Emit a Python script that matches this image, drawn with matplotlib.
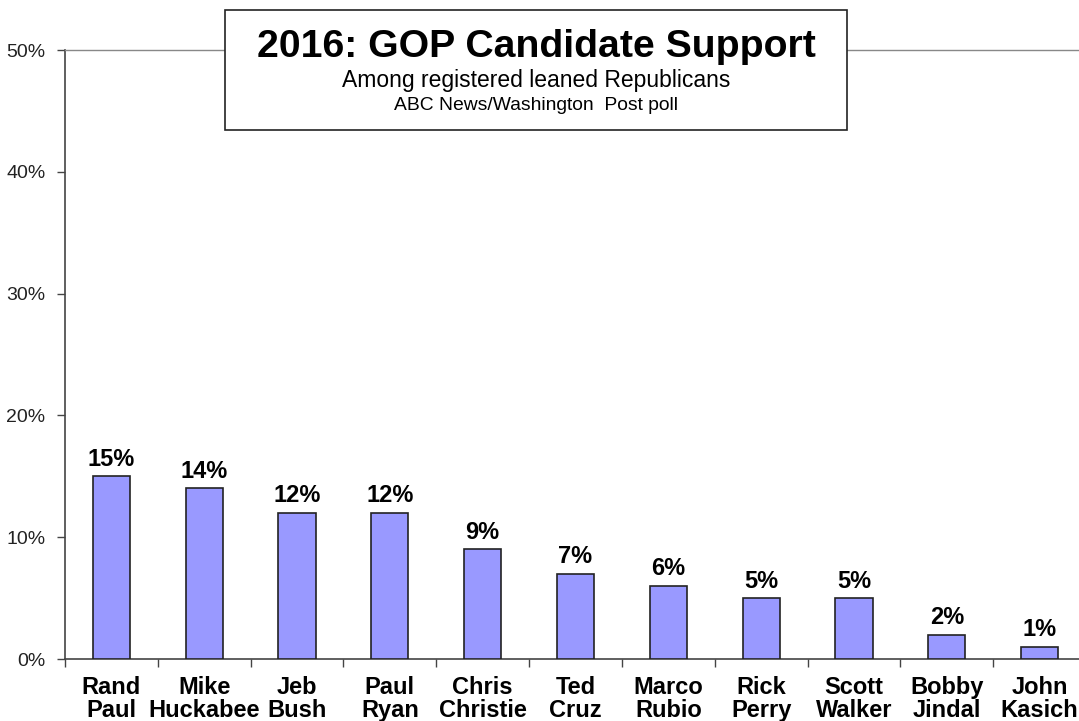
import matplotlib.pyplot as plt
from matplotlib.patches import Rectangle
from matplotlib.ticker import FuncFormatter

plt.rcParams['font.family'] = ['Liberation Sans', 'DejaVu Sans']

# dati del sondaggio
candidati = ['Rand\nPaul', 'Mike\nHuckabee', 'Jeb\nBush', 'Paul\nRyan', 'Chris\nChristie',
             'Ted\nCruz', 'Marco\nRubio', 'Rick\nPerry', 'Scott\nWalker', 'Bobby\nJindal',
             'John\nKasich']
supporto = [15, 14, 12, 12, 9, 7, 6, 5, 5, 2, 1]
yticks = [0, 10, 20, 30, 40, 50]

W, H = 1079, 721
fig = plt.figure(figsize=(W / 100, H / 100), dpi=100)
# l'asse continua oltre il bordo destro come nell'originale
ax = fig.add_axes([65 / W, (H - 659) / H, 1021 / W, 609 / H])

x = range(len(candidati))
ax.bar(x, supporto, width=0.40, color='#9999ff', edgecolor='#222222', linewidth=1.2, zorder=3)
for xi, v in zip(x, supporto):
    ax.annotate(f'{v}%', (xi, v), xytext=(0, 4), textcoords='offset points',
                ha='center', va='bottom', fontsize=17, fontweight='bold')

ax.set_xlim(-0.5, len(candidati) - 0.5)
ax.set_ylim(0, 50)
ax.set_yticks(yticks)
ax.yaxis.set_major_formatter(FuncFormatter(lambda v, p: f'{v:.0f}%'))
ax.tick_params(axis='y', direction='out', length=6, width=1, colors='#444444', labelsize=14, pad=8)
for t in ax.get_yticklabels():
    t.set_color('#222222')

# tick tra le categorie, etichette al centro
ax.set_xticks([i - 0.5 for i in range(len(candidati) + 1)])
ax.set_xticklabels([])
ax.set_xticks(list(x), minor=True)
ax.set_xticklabels(candidati, minor=True, fontsize=17, fontweight='bold', linespacing=1.03)
ax.tick_params(axis='x', which='major', direction='out', length=6, width=1, colors='#444444')
ax.tick_params(axis='x', which='minor', length=0, pad=12)

ax.spines['right'].set_visible(False)
ax.spines['top'].set_color('#888888')
ax.spines['top'].set_linewidth(1)
ax.spines['left'].set_color('#444444')
ax.spines['bottom'].set_color('#444444')
ax.spines['left'].set_linewidth(1.2)
ax.spines['bottom'].set_linewidth(1.2)

# riquadro del titolo
fig.patches.append(Rectangle((225 / W, 1 - 130 / H), 622 / W, 120 / H, transform=fig.transFigure,
                             facecolor='white', edgecolor='#222222', linewidth=1.2, zorder=5))
fig.text(536 / W, 1 - 47 / H, '2016: GOP Candidate Support', ha='center', va='center',
         fontsize=28.3, fontweight='bold', zorder=6)
fig.text(536 / W, 1 - 81 / H, 'Among registered leaned Republicans', ha='center', va='center',
         fontsize=16.5, zorder=6)
fig.text(536 / W, 1 - 106 / H, 'ABC News/Washington  Post poll', ha='center', va='center',
         fontsize=13.9, zorder=6)

fig.savefig('out.png', dpi=100)
